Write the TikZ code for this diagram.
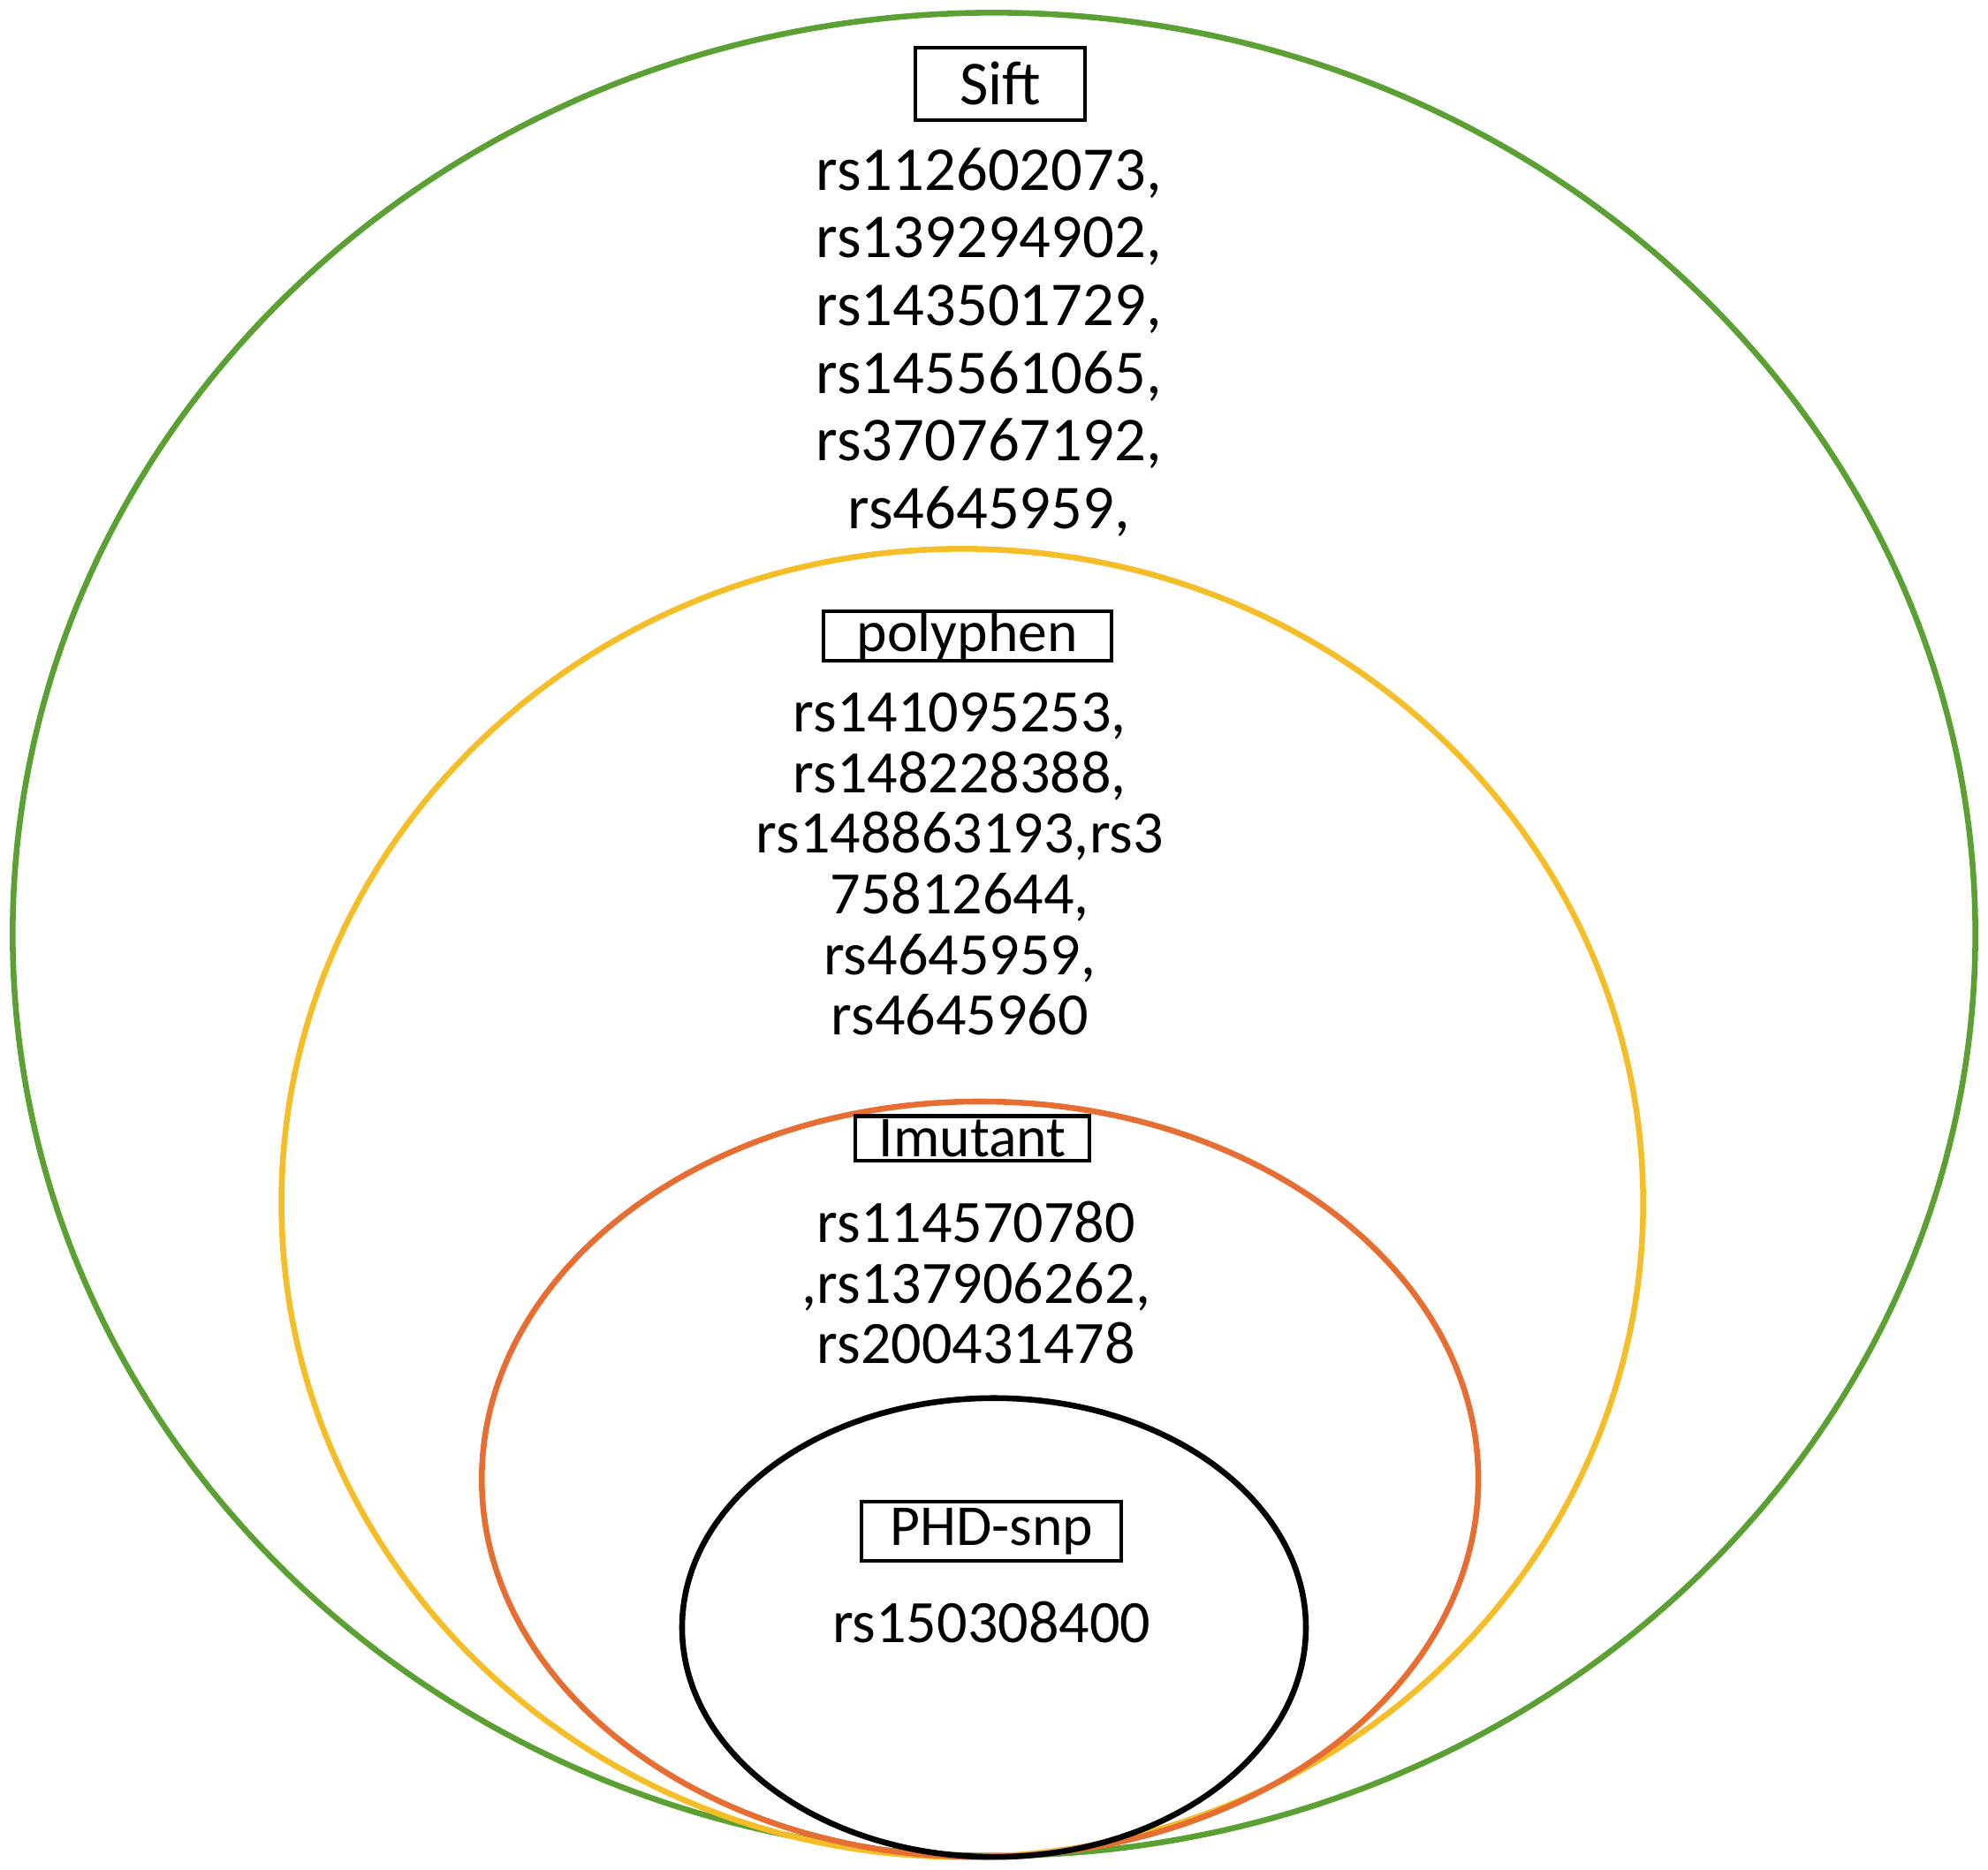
\documentclass[tikz,border=0pt]{standalone}
\usepackage{fontspec}
\setmainfont{Carlito}
\begin{document}
\begin{tikzpicture}[x=0.01cm,y=-0.01cm,
 txt/.style={align=center,font=\fontsize{14pt}{15.2pt}\selectfont,inner sep=0pt},
 txt2/.style={align=center,font=\fontsize{13.5pt}{13.6pt}\selectfont,inner sep=0pt},
 lbl/.style={draw,line width=0.8pt,inner ysep=1pt,font=\fontsize{13pt}{14pt}\selectfont}]
\useasboundingbox (0,0) rectangle (1568,1475);
\draw[line width=1.3pt,color={rgb,255:red,90;green,160;blue,50}] (784,737) ellipse [x radius=774,y radius=727];
\draw[line width=1.3pt,color={rgb,255:red,245;green,190;blue,40}] (759,949) ellipse [x radius=537,y radius=516];
\draw[line width=1.3pt,color={rgb,255:red,230;green,110;blue,50}] (773,1167) ellipse [x radius=393,y radius=298];
\draw[line width=1.3pt,black] (784,1284) ellipse [x radius=246,y radius=181];
\node[lbl,minimum width=134*0.01cm,minimum height=57*0.01cm,font=\fontsize{14pt}{15pt}\selectfont] (sift) at (789,66) {Sift};
\node[txt,anchor=north] (siftt) at (780,116) {rs112602073,\\rs139294902,\\rs143501729,\\rs145561065,\\rs370767192,\\rs4645959,};
\node[lbl,minimum width=227*0.01cm,minimum height=38*0.01cm,inner ysep=0pt] (poly) at (763,502) {polyphen};
\node[txt2,anchor=north] (polyt) at (757,546) {rs141095253,\\rs148228388,\\rs148863193,rs3\\75812644,\\rs4645959,\\rs4645960};
\node[lbl,minimum width=185*0.01cm,minimum height=35*0.01cm,inner ysep=0pt] (imu) at (767,898) {Imutant};
\node[txt2,anchor=north] (imut) at (770,947) {rs114570780\\,rs137906262,\\rs200431478};
\node[lbl,minimum width=205*0.01cm,minimum height=47*0.01cm,inner ysep=0pt] (phd) at (782,1208) {PHD-snp};
\node[txt2] (phdt) at (782,1280) {rs150308400};
\end{tikzpicture}
\end{document}
